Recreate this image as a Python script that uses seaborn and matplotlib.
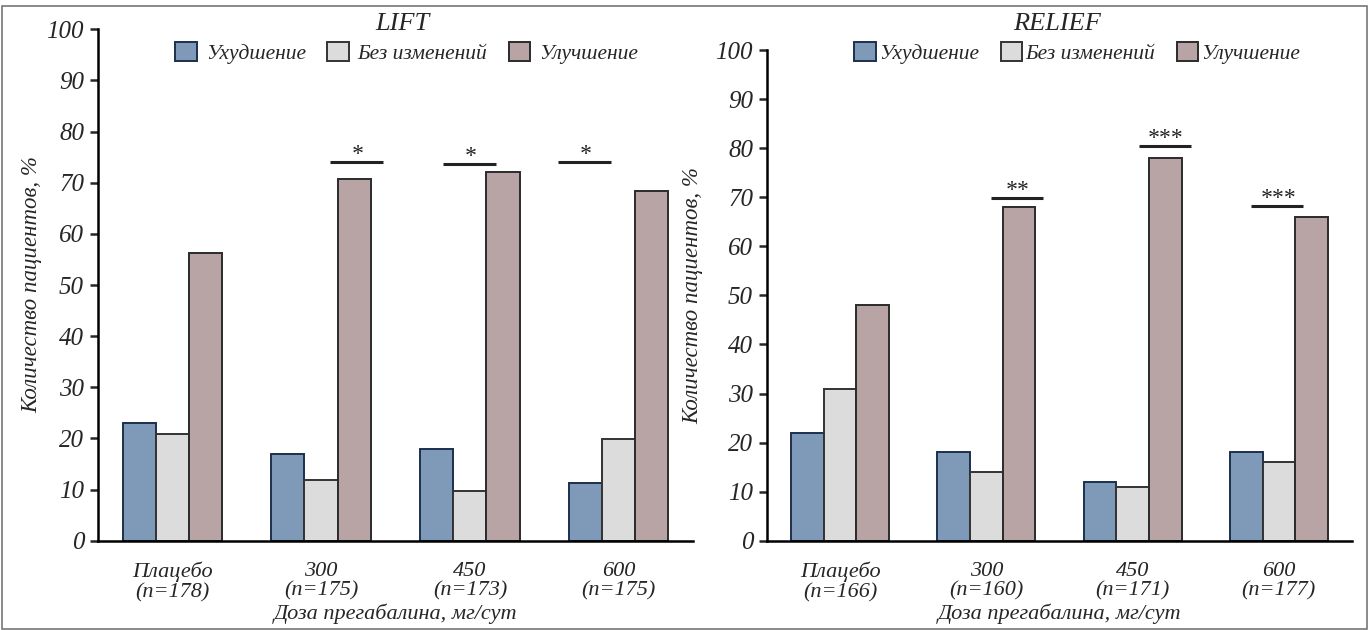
import matplotlib
matplotlib.use("Agg")
import pandas as pd
import matplotlib.pyplot as plt
import seaborn as sns
from matplotlib.patches import Patch, Rectangle

# Data
outcomes = ["Ухудшение", "Без изменений", "Улучшение"]
doses = ["Плацебо", "300", "450", "600"]

lift_n = [178, 175, 173, 175]
lift_worse = [23.0, 17.0, 18.0, 11.2]
lift_same = [20.8, 11.9, 9.8, 19.8]
lift_better = [56.2, 70.8, 72.0, 68.4]
lift_stars = ["", "*", "*", "*"]
lift_star_y = [0, 74.0, 73.6, 74.1]

relief_n = [166, 160, 171, 177]
relief_worse = [22, 18, 12, 18]
relief_same = [31, 14, 11, 16]
relief_better = [48, 68, 78, 66]
relief_stars = ["", "**", "***", "***"]
relief_star_y = [0, 69.8, 80.4, 68.3]

colors = ["#7f99b8", "#dddcdd", "#b8a3a5"]
edges = ["#1c2f4d", "#333333", "#2b2b2b"]

sns.set_style("ticks")
plt.rcParams["font.family"] = "Liberation Serif"
plt.rcParams["font.style"] = "italic"

fig = plt.figure(figsize=(13.72, 6.3), dpi=100)
ax1 = fig.add_axes([0.0714, 0.1417, 0.4337, 0.8118])
ax2 = fig.add_axes([0.5590, 0.1417, 0.4264, 0.7789])


def draw_panel(ax, n, worse, same, better, stars, star_y, star_dx, ylab_x):
    cats = [f"{d}\n(n={k})" for d, k in zip(doses, n)]
    df = pd.DataFrame({
        "dose": cats * 3,
        "outcome": [o for o in outcomes for _ in cats],
        "pct": worse + same + better,
    })
    sns.barplot(data=df, x="dose", y="pct", hue="outcome", order=cats,
                hue_order=outcomes, palette=colors, saturation=1, width=0.67,
                linewidth=1.4, edgecolor="#333333", legend=False, ax=ax)
    for cont, ec in zip(ax.containers, edges):
        for bar in cont:
            bar.set_edgecolor(ec)

    # significance bars
    for i, (s, y, dx) in enumerate(zip(stars, star_y, star_dx)):
        if not s:
            continue
        ax.plot([i + dx - 0.178, i + dx + 0.178], [y, y], color="#222222",
                lw=2.2, solid_capstyle="butt")
        ax.text(i + dx, y + 0.4, s, ha="center", va="baseline",
                fontsize=17, color="#222222")

    ax.set_xlim(-0.5, 3.5)
    ax.set_ylim(0, 100)
    ax.set_yticks(range(0, 101, 10))
    sns.despine(ax=ax)
    for side in ["left", "bottom"]:
        ax.spines[side].set_linewidth(1.8)
        ax.spines[side].set_color("black")
    ax.tick_params(axis="x", length=0, pad=15, labelsize=16)
    ax.tick_params(axis="y", length=6, width=1.8, pad=4, labelsize=18)
    for lbl in ax.get_xticklabels():
        lbl.set_linespacing(1.05)
    ax.set_xlabel("Доза прегабалина, мг/сут", fontsize=16, labelpad=1)
    ax.set_ylabel("Количество пациентов, %", fontsize=16.5)
    ax.yaxis.set_label_coords(ylab_x, 0.5)


draw_panel(ax1, lift_n, lift_worse, lift_same, lift_better,
           lift_stars, lift_star_y, [0, 0.24, 0.0, -0.23], -0.094)
draw_panel(ax2, relief_n, relief_worse, relief_same, relief_better,
           relief_stars, relief_star_y, [0, 0.21, 0.22, -0.01], -0.109)

handles = [Patch(facecolor=c, edgecolor=e, linewidth=1.4)
           for c, e in zip(colors, edges)]
for cx, pad in [(0.2963, 0.4), (0.7853, 0.15)]:
    fig.legend(handles, outcomes, loc="center", bbox_to_anchor=(cx, 0.916),
               ncol=3, frameon=False, handlelength=1.0, handleheight=1.0,
               handletextpad=pad, columnspacing=1.0, fontsize=15.5,
               borderpad=0)

fig.text(0.293, 0.962, "LIFT", ha="center", va="center", fontsize=19)
fig.text(0.7704, 0.962, "RELIEF", ha="center", va="center", fontsize=19)

# outer frame around the whole figure
fig.patches.append(Rectangle((0.0015, 0.0016), 0.9947, 0.9889,
                             transform=fig.transFigure, fill=False,
                             edgecolor="#777777", lw=1.2))

fig.savefig("out.png", dpi=100)
